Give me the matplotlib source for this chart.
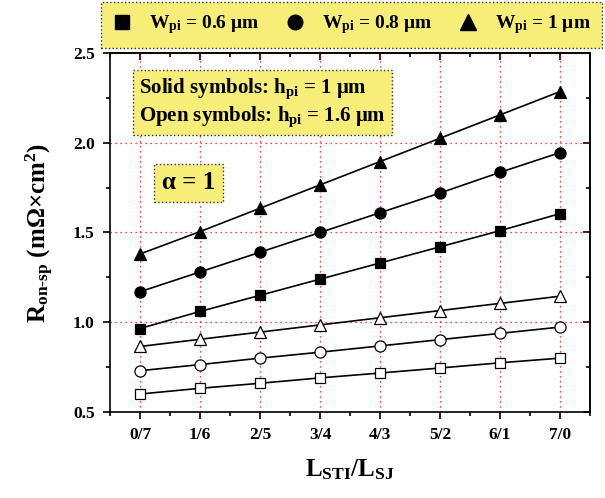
import numpy as np
import matplotlib
matplotlib.use('Agg')
import matplotlib.pyplot as plt
from matplotlib.lines import Line2D
from matplotlib.ticker import MultipleLocator, FormatStrFormatter

# 横軸のカテゴリ (L_STI / L_SJ)
ratio_labels = ['0/7', '1/6', '2/5', '3/4', '4/3', '5/2', '6/1', '7/0']

# h_pi = 1 um (塗りつぶし記号)
ron_w06_h1 = [0.965, 1.06, 1.15, 1.24, 1.33, 1.42, 1.51, 1.605]
ron_w08_h1 = [1.17, 1.28, 1.39, 1.50, 1.61, 1.72, 1.835, 1.945]
ron_w10_h1 = [1.38, 1.505, 1.635, 1.765, 1.895, 2.025, 2.155, 2.285]

# h_pi = 1.6 um (白抜き記号)
ron_w06_h16 = [0.60, 0.632, 0.66, 0.69, 0.717, 0.745, 0.774, 0.80]
ron_w08_h16 = [0.73, 0.764, 0.80, 0.833, 0.868, 0.903, 0.938, 0.973]
ron_w10_h16 = [0.865, 0.905, 0.945, 0.985, 1.025, 1.065, 1.105, 1.145]

width_labels = ['0.6', '0.8', '1']

# フォントの設定
plt.rcParams['font.family'] = 'Liberation Serif'
plt.rcParams['font.weight'] = 'bold'
plt.rcParams['axes.labelweight'] = 'bold'
plt.rcParams['mathtext.fontset'] = 'custom'
plt.rcParams['mathtext.rm'] = 'Liberation Serif:bold'
plt.rcParams['mathtext.it'] = 'Liberation Serif:bold'
plt.rcParams['mathtext.bf'] = 'Liberation Serif:bold'
plt.rcParams['axes.linewidth'] = 1.2

yellow = '#f6ee78'

fig = plt.figure(figsize=(6.05, 4.98), dpi=100)
ax = fig.add_axes([0.1818, 0.1727, 0.7934, 0.7209])

x = np.arange(len(ratio_labels))

series = [
    (ron_w06_h1, 's', 'k', 7.5),
    (ron_w08_h1, 'o', 'k', 8),
    (ron_w10_h1, '^', 'k', 9),
    (ron_w06_h16, 's', 'white', 7.5),
    (ron_w08_h16, 'o', 'white', 8),
    (ron_w10_h16, '^', 'white', 9),
]
for y, m, fc, ms in series:
    ax.plot(x, y, color='k', lw=1.2, marker=m, ms=ms, mfc=fc, mec='k', mew=0.9, zorder=3)

ax.set_xlim(-0.5, 7.5)
ax.set_ylim(0.5, 2.5)
ax.set_xticks(x)
ax.set_xticklabels(ratio_labels)
ax.xaxis.set_minor_locator(MultipleLocator(0.5))
ax.yaxis.set_major_locator(MultipleLocator(0.5))
ax.yaxis.set_minor_locator(MultipleLocator(0.25))
ax.yaxis.set_major_formatter(FormatStrFormatter('%.1f'))
ax.tick_params(which='major', direction='out', length=5, width=1.2, labelsize=12.5, pad=6)
ax.tick_params(which='minor', direction='out', length=3, width=1.2)

# 上と右の目盛 (内向き)
top = ax.secondary_xaxis('top')
top.set_xticks(x)
top.xaxis.set_minor_locator(MultipleLocator(0.5))
top.tick_params(which='both', direction='in', labeltop=False, width=1.2)
top.tick_params(which='major', length=5)
top.tick_params(which='minor', length=3)
right = ax.secondary_yaxis('right')
right.yaxis.set_major_locator(MultipleLocator(0.5))
right.yaxis.set_minor_locator(MultipleLocator(0.25))
right.tick_params(which='both', direction='in', labelright=False, width=1.2)
right.tick_params(which='major', length=5)
right.tick_params(which='minor', length=3)

ax.grid(which='major', color='red', ls=(0, (1, 3)), lw=0.9)
ax.set_axisbelow(True)

ax.set_xlabel(r'L$_{\mathrm{STI}}$/L$_{\mathrm{SJ}}$', fontsize=18, labelpad=10)
ax.set_ylabel(r'R$_{\mathrm{on\text{-}sp}}$ (mΩ×cm$^{2}$)', fontsize=18, labelpad=12)

# 凡例 (Wpi)
handles = [Line2D([], [], ls='none', marker=m, color='k', ms=ms)
           for m, ms in zip(['s', 'o', '^'], [9.5, 10.5, 11.5])]
labels = [r'W$_{\mathrm{pi}}$ = %s μm' % w for w in width_labels]
leg = fig.legend(handles, labels, ncol=3, loc='center',
                 bbox_to_anchor=(0.581, 0.95), fontsize=14,
                 handlelength=1.0, handletextpad=0.9, columnspacing=1.3,
                 borderpad=0.6, borderaxespad=0,
                 fancybox=False, framealpha=1, edgecolor='#333333')
leg.get_frame().set_facecolor(yellow)
leg.get_frame().set_linestyle(':')
leg.get_frame().set_linewidth(1.0)

box_style = dict(boxstyle='square,pad=0.3', fc=yellow, ec='#333333', ls=':', lw=1.0)
ax.text(0.06, 0.935, 'Solid symbols: h$_{\\mathrm{pi}}$ = 1 μm\nOpen symbols: h$_{\\mathrm{pi}}$ = 1.6 μm',
        transform=ax.transAxes, fontsize=15, va='top', ha='left',
        linespacing=1.2, bbox=box_style, zorder=5)
ax.text(0.1635, 0.639, 'α = 1', transform=ax.transAxes, fontsize=18,
        va='center', ha='center', bbox=box_style, zorder=5)

fig.savefig('out.png', dpi=100)
